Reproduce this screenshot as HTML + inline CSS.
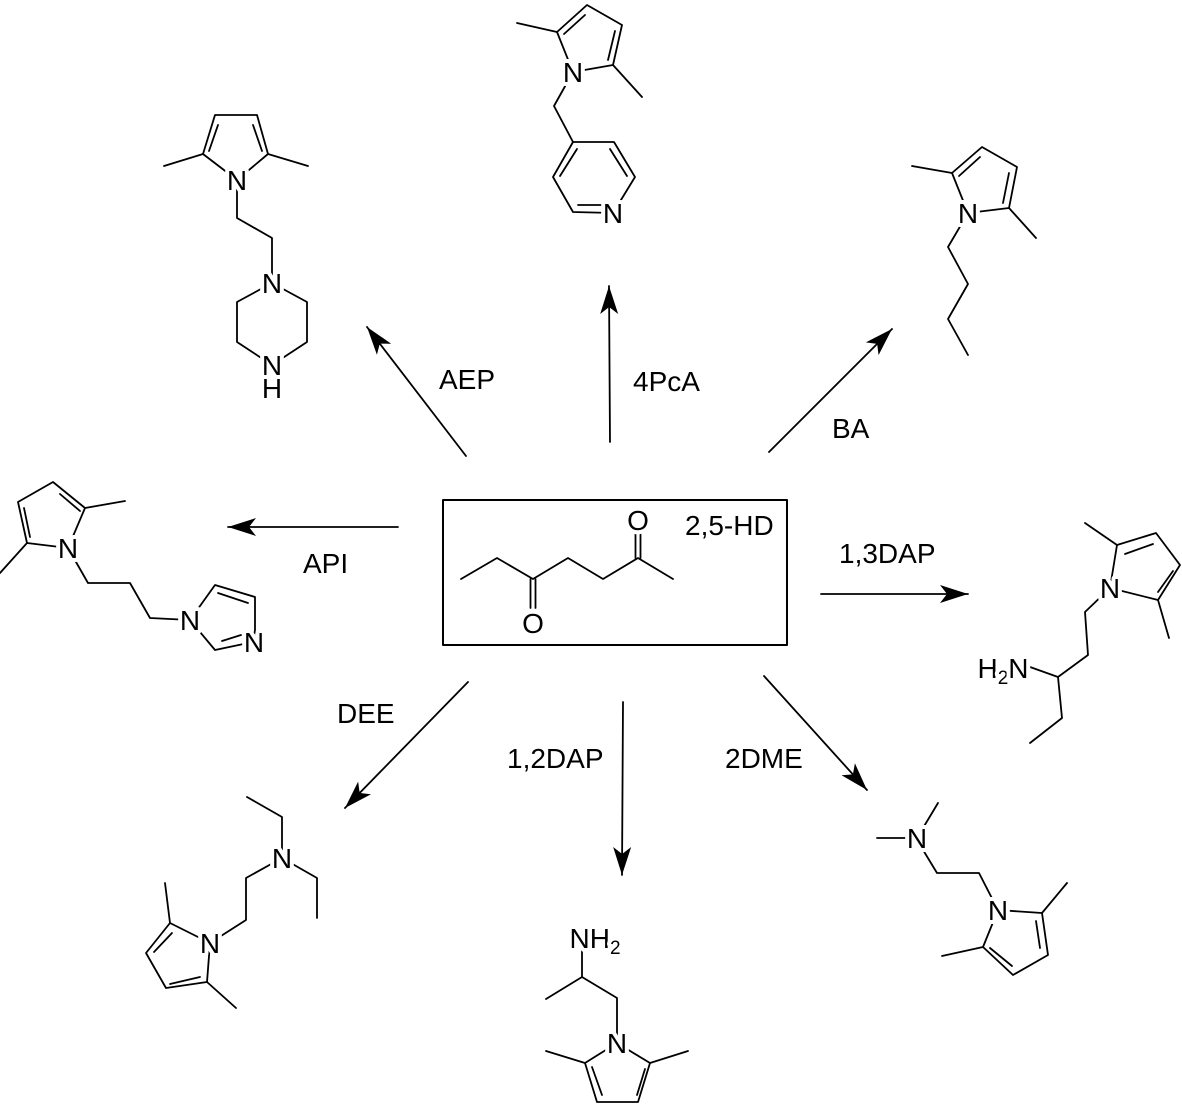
<!DOCTYPE html>
<html><head><meta charset="utf-8"><style>
html,body{margin:0;padding:0;background:#fff;}
svg{display:block;}
text{font-family:"Liberation Sans",Arial,sans-serif;font-size:28px;fill:#000;}
.a{text-anchor:middle;paint-order:stroke;stroke:#fff;stroke-width:8px;stroke-linejoin:round;}
</style></head><body>
<svg width="1182" height="1105" viewBox="0 0 1182 1105" xmlns="http://www.w3.org/2000/svg">
<defs>
<marker id="ah" markerUnits="userSpaceOnUse" markerWidth="40" markerHeight="30" refX="0" refY="0" viewBox="-30 -15 40 30" orient="auto" overflow="visible">
<path d="M0,0 L-28,-9 L-21,0 L-28,9 Z" fill="#000"/>
</marker>
</defs>
<g stroke="#000" stroke-width="1.8" fill="none" stroke-linecap="round" stroke-linejoin="round">
<!-- arrows -->
<line x1="466" y1="456" x2="367" y2="327" marker-end="url(#ah)"/>
<line x1="610" y1="442" x2="609" y2="286" marker-end="url(#ah)"/>
<line x1="769" y1="452" x2="892" y2="329" marker-end="url(#ah)"/>
<line x1="398" y1="527" x2="228" y2="527" marker-end="url(#ah)"/>
<line x1="821" y1="594" x2="968" y2="594" marker-end="url(#ah)"/>
<line x1="468" y1="682" x2="345" y2="808" marker-end="url(#ah)"/>
<line x1="623" y1="702" x2="622" y2="875" marker-end="url(#ah)"/>
<line x1="764" y1="676" x2="867" y2="790" marker-end="url(#ah)"/>
<!-- box -->
<rect x="443" y="500" width="344" height="145" stroke-width="2"/>
<!-- 2,5-HD -->
<polyline points="461,579 497,558 533,579 568,558 603,579 638,558 673,579"/>
<line x1="530.5" y1="579" x2="530.5" y2="608"/><line x1="535.5" y1="579" x2="535.5" y2="608"/>
<line x1="635.5" y1="558" x2="635.5" y2="533"/><line x1="640.5" y1="558" x2="640.5" y2="533"/>

<!-- AEP product -->
<polyline points="237,180 203,154 215,115 257,115 268,154 237,180"/>
<line x1="203" y1="154" x2="164" y2="166"/><line x1="268" y1="154" x2="308" y2="166"/>
<line x1="218" y1="125" x2="209" y2="151"/><line x1="253" y1="125" x2="262" y2="151"/>
<polyline points="237,180 237,218 272,238 272,283"/>
<polyline points="272,283 237,302 237,342 272,365 307,342 307,302 272,283"/>

<!-- 4PcA product -->
<polyline points="573,72 557,32 587,5 622,25 613,65 573,72"/>
<line x1="557" y1="32" x2="517" y2="23"/><line x1="613" y1="65" x2="642" y2="97"/>
<line x1="564" y1="34" x2="585" y2="15"/><line x1="615" y1="31" x2="608" y2="60"/>
<polyline points="573,72 554,106 573,142"/>
<polyline points="573,142 614,142 635,177 613,213 573,212 553,177 573,142"/>
<line x1="560" y1="176" x2="577" y2="149"/><line x1="610" y1="149" x2="627" y2="176"/><line x1="578" y1="205" x2="604" y2="205"/>

<!-- BA product -->
<polyline points="968,213 952,173 982,147 1017,167 1009,208 968,213"/>
<line x1="952" y1="173" x2="912" y2="166"/><line x1="1009" y1="208" x2="1036" y2="238"/>
<line x1="959" y1="176" x2="980" y2="157"/><line x1="1009" y1="173" x2="1003" y2="203"/>
<polyline points="968,213 948,247 968,284 948,319 968,355"/>

<!-- API product -->
<polyline points="68,548 27,543 18,502 53,482 85,508 68,548"/>
<line x1="85" y1="508" x2="125" y2="501"/><line x1="27" y1="543" x2="0" y2="573"/>
<line x1="60" y1="494" x2="80" y2="511"/><line x1="24" y1="508" x2="30" y2="537"/>
<polyline points="68,548 88,583 130,583 150,618 190,620"/>
<polyline points="190,620 215,585 255,597 255,630 253,642 215,650 190,620"/>
<line x1="218" y1="593" x2="248" y2="603"/><line x1="222" y1="641" x2="241" y2="635"/>

<!-- 1,3DAP product -->
<polyline points="1110,588 1117,545 1156,533 1180,565 1158,600 1110,588"/>
<line x1="1117" y1="545" x2="1085" y2="523"/><line x1="1158" y1="600" x2="1169" y2="638"/>
<line x1="1125" y1="554" x2="1153" y2="544"/><line x1="1173" y1="571" x2="1158" y2="592"/>
<polyline points="1110,588 1085,612 1088,655 1058,677 1062,718 1030,743"/>
<line x1="1058" y1="677" x2="1030" y2="667"/>

<!-- DEE product -->
<polyline points="282,858 282,817 247,797"/>
<polyline points="282,858 317,878 317,918"/>
<polyline points="282,858 246,878 246,920 210,943"/>
<polyline points="210,943 170,923 146,953 166,988 207,982 210,943"/>
<line x1="170" y1="923" x2="165" y2="883"/><line x1="207" y1="982" x2="236" y2="1008"/>
<line x1="154" y1="952" x2="172" y2="933"/><line x1="170" y1="984" x2="200" y2="977"/>

<!-- 1,2DAP product -->
<polyline points="582,948 582,977 546,999"/>
<polyline points="582,977 617,998 617,1043"/>
<polyline points="617,1043 585,1063 597,1102 638,1102 650,1063 617,1043"/>
<line x1="585" y1="1063" x2="546" y2="1051"/><line x1="650" y1="1063" x2="688" y2="1051"/>
<line x1="592" y1="1067" x2="602" y2="1095"/><line x1="645" y1="1069" x2="637" y2="1095"/>

<!-- 2DME product -->
<line x1="877" y1="838" x2="917" y2="838"/><line x1="917" y1="838" x2="938" y2="803"/>
<polyline points="917,840 937,873 979,873 998,910"/>
<polyline points="998,910 1042,913 1048,955 1013,975 983,947 998,910"/>
<line x1="1042" y1="913" x2="1067" y2="883"/><line x1="983" y1="947" x2="942" y2="956"/>
<line x1="1036" y1="921" x2="1040" y2="948"/><line x1="990" y1="948" x2="1012" y2="966"/>
</g>

<!-- atom labels -->
<text class="a" x="533" y="633">O</text>
<text class="a" x="638" y="530">O</text>
<text class="a" x="237" y="190">N</text>
<text class="a" x="272" y="293">N</text>
<text class="a" x="272" y="375">N</text>
<text class="a" x="272" y="398">H</text>
<text class="a" x="573" y="82">N</text>
<text class="a" x="613" y="223">N</text>
<text class="a" x="968" y="223">N</text>
<text class="a" x="68" y="558">N</text>
<text class="a" x="190" y="630">N</text>
<text class="a" x="254" y="652">N</text>
<text class="a" x="1110" y="598">N</text>
<text class="a" x="1003" y="678" style="text-anchor:middle">H<tspan font-size="19" dy="6">2</tspan><tspan dy="-6">N</tspan></text>
<text class="a" x="282" y="868">N</text>
<text class="a" x="210" y="953">N</text>
<text class="a" x="595" y="948">NH<tspan font-size="19" dy="6">2</tspan></text>
<text class="a" x="617" y="1053">N</text>
<text class="a" x="917" y="848">N</text>
<text class="a" x="998" y="920">N</text>

<!-- reagent labels -->
<text x="685" y="535">2,5-HD</text>
<text x="439" y="389">AEP</text>
<text x="633" y="391">4PcA</text>
<text x="832" y="438">BA</text>
<text x="303" y="573">API</text>
<text x="839" y="563">1,3DAP</text>
<text x="337" y="723">DEE</text>
<text x="507" y="768">1,2DAP</text>
<text x="725" y="768">2DME</text>
</svg>
</body></html>
